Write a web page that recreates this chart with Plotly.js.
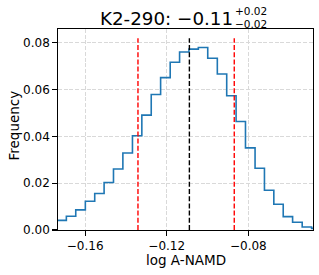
<!DOCTYPE html>
<html>
<head>
<meta charset="utf-8">
<script src="https://cdn.plot.ly/plotly-3.0.1.min.js"></script>
<style>html,body{margin:0;padding:0;background:#fff;}#chart{width:319px;height:275px;}</style>
</head>
<body>
<div id="chart"></div>
<script>
// Histogram bin edges (log A-NAMD) and frequencies
const binEdges = [-0.1738, -0.1692, -0.1646, -0.1599, -0.1553, -0.1507, -0.1461, -0.1415,
  -0.1368, -0.1322, -0.1276, -0.1230, -0.1183, -0.1137, -0.1091, -0.1045, -0.0999,
  -0.0952, -0.0906, -0.0860, -0.0814, -0.0767, -0.0721, -0.0675, -0.0629, -0.0583,
  -0.0536, -0.0490, -0.0444];
const frequency = [0.0041, 0.0059, 0.0086, 0.0123, 0.0156, 0.0203, 0.0261, 0.0329,
  0.0403, 0.0491, 0.0579, 0.0651, 0.0717, 0.0761, 0.0773, 0.0780, 0.0734, 0.0667,
  0.0574, 0.0464, 0.0351, 0.0264, 0.0170, 0.0110, 0.0057, 0.0033, 0.0013, 0.0007];
// Percentile lines
const lowerValue = -0.1341;
const medianValue = -0.1089;
const upperValue = -0.0869;
// Text
const titleMain = 'K2-290: \u22120.11';
const titlePlus = '+0.02';
const titleMinus = '\u22120.02';
const xTitle = 'log A-NAMD';
const yTitle = 'Frequency';
const xTicks = [-0.16, -0.12, -0.08];
const yTicks = [0, 0.02, 0.04, 0.06, 0.08];

const W = 319, H = 275;
const M = {l: 58, r: 6, t: 29, b: 45};
const pw = W - M.l - M.r, ph = H - M.t - M.b;
const px2paperX = p => (p - M.l) / pw;
const px2paperY = p => (H - M.b - p) / ph;

const stepX = [binEdges[0]].concat(binEdges);
const stepY = [0].concat(frequency, [frequency[frequency.length - 1]]);
stepX.push(binEdges[binEdges.length - 1]);
stepY.push(0);

const lineTop = Math.max(...frequency) * 1.05;
const font = 'DejaVu Sans, sans-serif';

function vline(x, color) {
  return {x: [x, x], y: [0, lineTop], mode: 'lines', type: 'scatter',
    line: {color: color, width: 1.4, dash: '5px,2.2px'}, hoverinfo: 'skip', showlegend: false};
}

const traces = [
  {x: stepX, y: stepY, type: 'scatter', mode: 'lines', line: {shape: 'hv', color: '#1f77b4', width: 1.6}, showlegend: false},
  vline(lowerValue, '#ff0000'),
  vline(medianValue, '#000000'),
  vline(upperValue, '#ff0000')
];

const layout = {
  width: W, height: H,
  margin: M,
  paper_bgcolor: '#fff', plot_bgcolor: '#fff',
  font: {family: font, size: 12, color: '#000'},
  showlegend: false,
  xaxis: {
    range: [-0.1733, -0.0483],
    tickvals: xTicks, tickformat: '.2f',
    ticks: 'outside', ticklen: 4.7, tickwidth: 1.1, tickcolor: '#000',
    showline: true, mirror: true, linecolor: '#000', linewidth: 1.1,
    showgrid: true, gridcolor: '#d9d9d9', gridwidth: 1, griddash: '4px,1.7px',
    zeroline: false,
    tickfont: {size: 12}
  },
  yaxis: {
    range: [0, 0.0859],
    tickvals: yTicks, tickformat: '.2f',
    ticks: 'outside', ticklen: 4.7, tickwidth: 1.1, tickcolor: '#000',
    showline: true, mirror: true, linecolor: '#000', linewidth: 1.1,
    showgrid: true, gridcolor: '#d9d9d9', gridwidth: 1, griddash: '4px,1.7px',
    zeroline: false,
    tickfont: {size: 12}
  },
  annotations: [
    {text: titleMain, xref: 'paper', yref: 'paper', x: px2paperX(235), y: px2paperY(18.8),
     xanchor: 'right', yanchor: 'middle', showarrow: false, font: {size: 18.3}},
    {text: titlePlus, xref: 'paper', yref: 'paper', x: px2paperX(232.5), y: px2paperY(11.2),
     xanchor: 'left', yanchor: 'middle', showarrow: false, font: {size: 10.5}},
    {text: titleMinus, xref: 'paper', yref: 'paper', x: px2paperX(232.5), y: px2paperY(23.6),
     xanchor: 'left', yanchor: 'middle', showarrow: false, font: {size: 10.5}},
    {text: xTitle, xref: 'paper', yref: 'paper', x: px2paperX(185.5), y: px2paperY(259.6),
     xanchor: 'center', yanchor: 'middle', showarrow: false, borderpad: 0, font: {size: 13.5}},
    {text: yTitle, xref: 'paper', yref: 'paper', x: px2paperX(13.5), y: px2paperY(126),
     xanchor: 'center', yanchor: 'middle', textangle: -90, showarrow: false, borderpad: 0, font: {size: 13.5}}
  ]
};

Plotly.newPlot('chart', traces, layout, {displayModeBar: false, staticPlot: true});
</script>
</body>
</html>
